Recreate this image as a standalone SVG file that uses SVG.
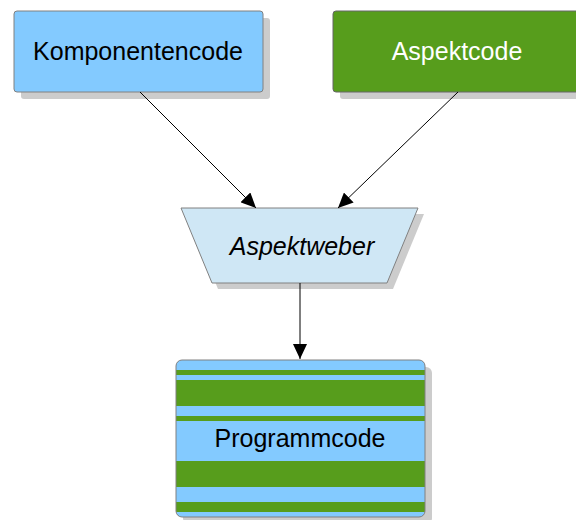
<svg xmlns="http://www.w3.org/2000/svg" width="576" height="520" viewBox="0 0 576 520">
<style>
.lbl{font-family:"Liberation Sans",Arial,sans-serif;font-size:25px;text-anchor:middle}
.shadow{fill:#cccccc}
.conn{stroke:#000;stroke-width:1;fill:none}
</style>
<defs>
<marker id="arr" markerWidth="16" markerHeight="14" refX="15" refY="7" orient="auto" markerUnits="userSpaceOnUse">
<path d="M0,0 L15,7 L0,14 Z" fill="#000"/>
</marker>
<clipPath id="pc"><rect x="176" y="360" width="249" height="157" rx="6"/></clipPath>
</defs>
<rect width="576" height="520" fill="#fff"/>
<g id="komponentencode">
<rect class="shadow" x="21" y="18" width="249" height="81" rx="3"/>
<rect x="14" y="11" width="249" height="81" rx="3" fill="#83caff" stroke="#808080" stroke-width="1"/>
<text class="lbl" x="138" y="60" fill="#000">Komponentencode</text>
</g>
<g id="aspektcode">
<rect class="shadow" x="340" y="18" width="249" height="81" rx="3"/>
<rect x="333" y="11" width="249" height="81" rx="3" fill="#579d1c" stroke="#666" stroke-width="1"/>
<text class="lbl" x="457" y="60" fill="#fff">Aspektcode</text>
</g>
<g id="aspektweber">
<polygon class="shadow" points="187,214 424,214 393,289 218,289"/>
<polygon points="181,208 418,208 387,283 212,283" fill="#cfe7f5" stroke="#808080" stroke-width="1"/>
<text class="lbl" x="302" y="255" font-style="italic" fill="#000">Aspektweber</text>
</g>
<g id="programmcode">
<rect class="shadow" x="183" y="367" width="249" height="157" rx="6"/>
<g clip-path="url(#pc)">
<rect x="176" y="360" width="249" height="157" fill="#83caff"/>
<g fill="#579d1c">
<rect x="176" y="370" width="249" height="5"/>
<rect x="176" y="380" width="249" height="26"/>
<rect x="176" y="416" width="249" height="5"/>
<rect x="176" y="461" width="249" height="26"/>
<rect x="176" y="502" width="249" height="10"/>
</g>
</g>
<rect x="176" y="360" width="249" height="157" rx="6" fill="none" stroke="#808080" stroke-width="1"/>
<text class="lbl" x="300" y="447" fill="#000">Programmcode</text>
</g>
<g id="connectors">
<line class="conn" x1="140" y1="92" x2="256" y2="208" marker-end="url(#arr)"/>
<line class="conn" x1="458" y1="92" x2="338" y2="208" marker-end="url(#arr)"/>
<line class="conn" x1="300" y1="283" x2="300" y2="359" marker-end="url(#arr)"/>
</g>
</svg>
